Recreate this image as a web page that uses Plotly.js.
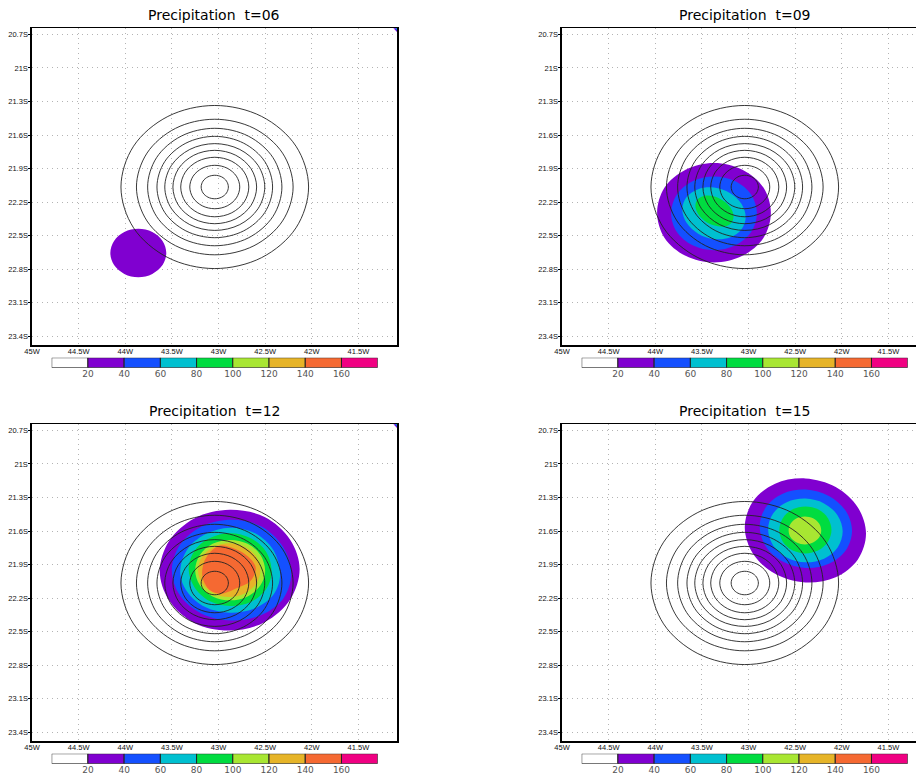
<!DOCTYPE html>
<html><head><meta charset="utf-8">
<script src="https://cdn.plot.ly/plotly-3.0.0.min.js"></script>
<style>html,body{margin:0;padding:0;background:#fff;overflow:hidden}</style>
</head><body><div id="chart" style="width:916px;height:774px"></div>
<script>
const panelTimes = ['06','09','12','15'];
const lonTicks = [-45,-44.5,-44,-43.5,-43,-42.5,-42,-41.5];
const lonLabels = ['45W','44.5W','44W','43.5W','43W','42.5W','42W','41.5W'];
const latTicks = [-20.7,-21,-21.3,-21.6,-21.9,-22.2,-22.5,-22.8,-23.1,-23.4];
const latLabels = ['20.7S','21S','21.3S','21.6S','21.9S','22.2S','22.5S','22.8S','23.1S','23.4S'];
const barLevels = [20,40,60,80,100,120,140,160];
const barCenters = [10,30,50,70,90,110,130,150,170];
const barColors = ['#ffffff','#8000d0','#1450ff','#00c0d0','#00dc40','#a8e632','#e6b428','#f56932','#f00082'];

// black contour rings (lon / lat)
const ringLon = [
 [-42.034,-42.169,-42.537,-43.04,-43.543,-43.911,-44.046,-43.911,-43.543,-43.04,-42.537,-42.169],
 [-42.20,-42.313,-42.62,-43.04,-43.46,-43.767,-43.88,-43.767,-43.46,-43.04,-42.62,-42.313],
 [-42.32,-42.416,-42.68,-43.04,-43.40,-43.664,-43.76,-43.664,-43.40,-43.04,-42.68,-42.416],
 [-42.42,-42.503,-42.73,-43.04,-43.35,-43.577,-43.66,-43.577,-43.35,-43.04,-42.73,-42.503],
 [-42.504,-42.576,-42.772,-43.04,-43.308,-43.504,-43.576,-43.504,-43.308,-43.04,-42.772,-42.576],
 [-42.591,-42.651,-42.815,-43.04,-43.265,-43.429,-43.489,-43.429,-43.265,-43.04,-42.815,-42.651],
 [-42.675,-42.724,-42.857,-43.04,-43.223,-43.356,-43.405,-43.356,-43.223,-43.04,-42.857,-42.724],
 [-42.772,-42.808,-42.906,-43.04,-43.174,-43.272,-43.308,-43.272,-43.174,-43.04,-42.906,-42.808],
 [-42.894,-42.914,-42.967,-43.04,-43.113,-43.166,-43.186,-43.166,-43.113,-43.04,-42.967,-42.914]];
const ringLat = [
 [-22.065,-21.70,-21.434,-21.336,-21.434,-21.70,-22.065,-22.43,-22.696,-22.794,-22.696,-22.43],
 [-22.065,-21.762,-21.54,-21.459,-21.54,-21.762,-22.065,-22.368,-22.59,-22.671,-22.59,-22.368],
 [-22.065,-21.802,-21.61,-21.54,-21.61,-21.802,-22.065,-22.328,-22.52,-22.59,-22.52,-22.328],
 [-22.065,-21.838,-21.673,-21.612,-21.673,-21.838,-22.065,-22.292,-22.457,-22.518,-22.457,-22.292],
 [-22.065,-21.871,-21.729,-21.677,-21.729,-21.871,-22.065,-22.259,-22.401,-22.453,-22.401,-22.259],
 [-22.065,-21.901,-21.781,-21.737,-21.781,-21.901,-22.065,-22.229,-22.349,-22.393,-22.349,-22.229],
 [-22.065,-21.932,-21.835,-21.799,-21.835,-21.932,-22.065,-22.198,-22.295,-22.331,-22.295,-22.198],
 [-22.065,-21.968,-21.897,-21.871,-21.897,-21.968,-22.065,-22.162,-22.233,-22.259,-22.233,-22.162],
 [-22.065,-22.012,-21.974,-21.96,-21.974,-22.012,-22.065,-22.118,-22.156,-22.17,-22.156,-22.118]];

// precipitation filled levels: outermost first (20, 40, 60 ...)
const t06Lon = [[-43.56,-43.60,-43.71,-43.86,-44.01,-44.12,-44.16,-44.12,-44.01,-43.86,-43.71,-43.60]];
const t06Lat = [[-22.655,-22.547,-22.468,-22.439,-22.468,-22.547,-22.655,-22.763,-22.842,-22.871,-22.842,-22.763]];

const t09Lon = [
 [-42.76,-42.84,-43.065,-43.37,-43.675,-43.90,-43.98,-43.90,-43.675,-43.37,-43.065,-42.84],
 [-42.91,-42.97,-43.14,-43.37,-43.60,-43.77,-43.83,-43.77,-43.60,-43.37,-43.14,-42.97],
 [-43.03,-43.076,-43.20,-43.37,-43.54,-43.664,-43.71,-43.664,-43.54,-43.37,-43.20,-43.076],
 [-43.16,-43.187,-43.263,-43.365,-43.468,-43.543,-43.57,-43.543,-43.468,-43.365,-43.263,-43.187]];
const t09Lat = [
 [-22.295,-22.07,-21.91,-21.85,-21.91,-22.07,-22.295,-22.52,-22.68,-22.74,-22.68,-22.52],
 [-22.30,-22.135,-22.014,-21.97,-22.014,-22.135,-22.30,-22.465,-22.586,-22.63,-22.586,-22.465],
 [-22.335,-22.215,-22.119,-22.07,-22.084,-22.155,-22.265,-22.385,-22.482,-22.53,-22.517,-22.445],
 [-22.33,-22.258,-22.192,-22.15,-22.142,-22.172,-22.23,-22.302,-22.368,-22.41,-22.418,-22.388]];

const t12Lon = [
 [-42.13,-42.23,-42.505,-42.88,-43.255,-43.53,-43.63,-43.53,-43.255,-42.88,-42.505,-42.23],
 [-42.22,-42.306,-42.54,-42.86,-43.18,-43.414,-43.50,-43.414,-43.18,-42.86,-42.54,-42.306],
 [-42.34,-42.412,-42.607,-42.875,-43.143,-43.338,-43.41,-43.338,-43.143,-42.875,-42.607,-42.412],
 [-42.43,-42.49,-42.653,-42.875,-43.098,-43.26,-43.32,-43.26,-43.098,-42.875,-42.653,-42.49],
 [-42.50,-42.55,-42.688,-42.875,-43.063,-43.20,-43.25,-43.20,-43.063,-42.875,-42.688,-42.55],
 [-42.55,-42.595,-42.718,-42.885,-43.053,-43.175,-43.22,-43.175,-43.053,-42.885,-42.718,-42.595],
 [-42.98,-42.82,-42.68,-42.60,-42.66,-42.80,-42.97,-43.09,-43.17,-43.16,-43.09]];
const t12Lat = [
 [-21.94,-21.68,-21.475,-21.41,-21.485,-21.69,-21.96,-22.22,-22.425,-22.49,-22.415,-22.21],
 [-21.98,-21.745,-21.56,-21.50,-21.56,-21.725,-21.95,-22.175,-22.34,-22.40,-22.35,-22.205],
 [-22.0,-21.77,-21.62,-21.57,-21.63,-21.77,-21.97,-22.14,-22.28,-22.33,-22.29,-22.17],
 [-21.97,-21.785,-21.665,-21.62,-21.665,-21.78,-21.94,-22.10,-22.225,-22.27,-22.235,-22.12],
 [-21.96,-21.815,-21.715,-21.68,-21.715,-21.815,-21.95,-22.085,-22.185,-22.22,-22.185,-22.085],
 [-21.95,-21.83,-21.742,-21.71,-21.742,-21.83,-21.95,-22.07,-22.158,-22.19,-22.158,-22.07],
 [-21.73,-21.76,-21.83,-21.93,-22.05,-22.11,-22.16,-22.13,-22.02,-21.89,-21.79]];

const t15Lon = [
 [-41.74,-41.827,-42.065,-42.39,-42.715,-42.953,-43.04,-42.953,-42.715,-42.39,-42.065,-41.827],
 [-41.89,-41.956,-42.138,-42.385,-42.633,-42.814,-42.88,-42.814,-42.633,-42.385,-42.138,-41.956],
 [-41.99,-42.044,-42.19,-42.39,-42.59,-42.736,-42.79,-42.736,-42.59,-42.39,-42.19,-42.044],
 [-42.11,-42.148,-42.25,-42.39,-42.53,-42.632,-42.67,-42.632,-42.53,-42.39,-42.25,-42.148],
 [-42.22,-42.243,-42.308,-42.395,-42.483,-42.547,-42.57,-42.547,-42.483,-42.395,-42.308,-42.243]];
const t15Lat = [
 [-21.625,-21.389,-21.207,-21.13,-21.177,-21.337,-21.565,-21.801,-21.983,-22.06,-22.013,-21.854],
 [-21.60,-21.422,-21.287,-21.23,-21.267,-21.388,-21.56,-21.738,-21.873,-21.93,-21.893,-21.772],
 [-21.605,-21.461,-21.353,-21.31,-21.343,-21.443,-21.585,-21.729,-21.837,-21.88,-21.847,-21.747],
 [-21.59,-21.485,-21.408,-21.38,-21.408,-21.485,-21.59,-21.695,-21.772,-21.80,-21.772,-21.695],
 [-21.595,-21.533,-21.487,-21.47,-21.487,-21.533,-21.595,-21.658,-21.703,-21.72,-21.703,-21.658]];

// small bit of rain in the top right corner of the left-hand panels
const cornerLon = [[-41.13,-41.08,-41.08],[-41.115,-41.08,-41.08],[-41.10,-41.08,-41.08],[-41.093,-41.08,-41.08]];
const cornerLat = [[-20.64,-20.64,-20.685],[-20.64,-20.64,-20.675],[-20.64,-20.64,-20.665],[-20.64,-20.64,-20.657]];

const W = 916, H = 774;
const panels = [
 {left:32, top:28.3, lons:t06Lon, lats:t06Lat, corner:true},
 {left:562, top:28.3, lons:t09Lon, lats:t09Lat, corner:false},
 {left:32, top:424.3, lons:t12Lon, lats:t12Lat, corner:true},
 {left:562, top:424.3, lons:t15Lon, lats:t15Lat, corner:false}];

const close = a => a.concat(a.slice(0,1));
const traces = [];
const layout = {width:W, height:H, margin:{l:0,r:0,t:0,b:0}, showlegend:false,
  paper_bgcolor:'#fff', plot_bgcolor:'#fff', bargap:0, annotations:[], hovermode:false,
  font:{family:'"DejaVu Sans", sans-serif'}};

panels.forEach((p,i)=>{
  const n = i+1, m = i+5;
  const right = Math.min(p.left+365, W);
  const xid = n===1?'x':'x'+n, yid = n===1?'y':'y'+n;
  const tickFont = {family:'"Liberation Sans", sans-serif', size:7.5, color:'#111'};
  layout['xaxis'+(n===1?'':n)] = {anchor:yid, domain:[p.left/W, right/W],
    range:[-45,-45+(right-p.left)/93.25], tickmode:'array', tickvals:lonTicks, ticktext:lonLabels,
    tickfont:tickFont, ticks:'', ticklabelstandoff:-2,
    showgrid:true, gridcolor:'#b4b4b4', griddash:'1px,4px', gridwidth:1, zeroline:false,
    showline:true, linecolor:'#000', linewidth:1.6, mirror:true, fixedrange:true};
  layout['yaxis'+(n===1?'':n)] = {anchor:xid, domain:[1-(p.top+317)/H, 1-p.top/H],
    range:[-23.48,-20.646], tickmode:'array', tickvals:latTicks, ticktext:latLabels,
    tickfont:tickFont, ticks:'outside', ticklen:2, tickwidth:1, tickcolor:'#000', ticklabelstandoff:-1,
    showgrid:true, gridcolor:'#b4b4b4', griddash:'1px,4px', gridwidth:1, zeroline:false,
    showline:true, linecolor:'#000', linewidth:1.6, mirror:right<W, fixedrange:true};

  p.lons.forEach((lon,k)=>traces.push({type:'scatter', mode:'lines', xaxis:xid, yaxis:yid,
    x:close(lon), y:close(p.lats[k]), fill:'toself', fillcolor:barColors[k+1],
    line:{shape:'spline', width:0, color:barColors[k+1], smoothing:1}}));
  if(p.corner) cornerLon.forEach((lon,k)=>traces.push({type:'scatter', mode:'lines', xaxis:xid, yaxis:yid,
    x:close(lon), y:close(cornerLat[k]), fill:'toself', fillcolor:barColors[k+1], line:{width:0}}));
  ringLon.forEach((lon,k)=>traces.push({type:'scatter', mode:'lines', xaxis:xid, yaxis:yid,
    x:close(lon), y:close(ringLat[k]), line:{shape:'spline', width:0.9, color:'#222', smoothing:1}}));

  // colour bar below the panel
  const cx = p.left+19.7, cy = p.top+329.4;
  const bx = 'x'+m, by = 'y'+m;
  layout['xaxis'+m] = {anchor:by, domain:[cx/W,(cx+326)/W], range:[0,180], tickmode:'array',
    tickvals:barLevels, tickfont:{family:'"DejaVu Sans", sans-serif', size:9, color:'#555'},
    ticks:'', ticklabelstandoff:-1, showgrid:false, zeroline:false, showline:false, fixedrange:true};
  layout['yaxis'+m] = {anchor:bx, domain:[1-(cy+10)/H,1-cy/H], range:[0,1], visible:false, fixedrange:true};
  traces.push({type:'bar', xaxis:bx, yaxis:by, x:barCenters, y:barCenters.map(()=>1), width:20,
    marker:{color:barColors, line:{color:'#222', width:1}}});

  layout.annotations.push({xref:'paper', yref:'paper', x:(p.left+182)/W, y:1-(p.top-13)/H,
    xanchor:'center', yanchor:'middle', showarrow:false,
    text:'Precipitation\u00a0\u00a0t='+panelTimes[i],
    font:{family:'"DejaVu Sans", sans-serif', size:14, color:'#000'}});
});
Plotly.newPlot('chart', traces, layout, {displayModeBar:false, staticPlot:true});
</script></body></html>
